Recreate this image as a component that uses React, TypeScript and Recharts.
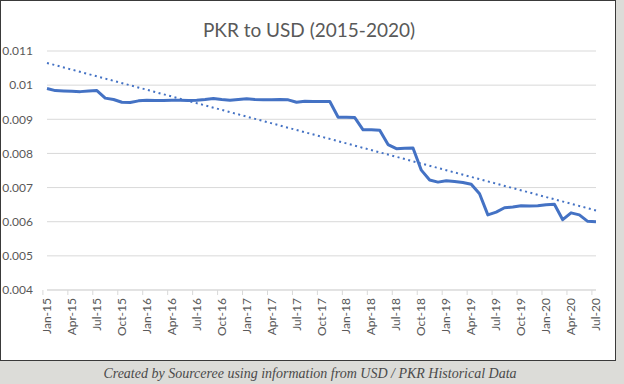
import React from "react";
import { LineChart, Line, XAxis, YAxis, CartesianGrid, ReferenceLine } from "recharts";

const months: string[] = [
  "Jan-15", "Feb-15", "Mar-15", "Apr-15", "May-15", "Jun-15", "Jul-15", "Aug-15", "Sep-15", "Oct-15", "Nov-15", "Dec-15",
  "Jan-16", "Feb-16", "Mar-16", "Apr-16", "May-16", "Jun-16", "Jul-16", "Aug-16", "Sep-16", "Oct-16", "Nov-16", "Dec-16",
  "Jan-17", "Feb-17", "Mar-17", "Apr-17", "May-17", "Jun-17", "Jul-17", "Aug-17", "Sep-17", "Oct-17", "Nov-17", "Dec-17",
  "Jan-18", "Feb-18", "Mar-18", "Apr-18", "May-18", "Jun-18", "Jul-18", "Aug-18", "Sep-18", "Oct-18", "Nov-18", "Dec-18",
  "Jan-19", "Feb-19", "Mar-19", "Apr-19", "May-19", "Jun-19", "Jul-19", "Aug-19", "Sep-19", "Oct-19", "Nov-19", "Dec-19",
  "Jan-20", "Feb-20", "Mar-20", "Apr-20", "May-20", "Jun-20", "Jul-20",
];

const rate2015 = [0.0099, 0.00984, 0.00983, 0.00982, 0.00981, 0.00983, 0.00984, 0.00962, 0.00958, 0.0095, 0.00949, 0.00954];
const rate2016 = [0.00956, 0.00955, 0.00955, 0.00956, 0.00956, 0.00955, 0.00956, 0.00958, 0.00961, 0.00958, 0.00956, 0.00958];
const rate2017 = [0.0096, 0.00958, 0.00957, 0.00957, 0.00958, 0.00957, 0.0095, 0.00953, 0.00952, 0.00952, 0.00952, 0.00906];
const rate2018 = [0.00906, 0.00905, 0.00869, 0.00869, 0.00868, 0.00826, 0.00814, 0.00815, 0.00816, 0.00751, 0.00722, 0.00716];
const rate2019 = [0.0072, 0.00718, 0.00715, 0.0071, 0.00682, 0.0062, 0.00628, 0.00641, 0.00643, 0.00647, 0.00646, 0.00647];
const rate2020 = [0.0065, 0.00651, 0.00606, 0.00626, 0.0062, 0.00601, 0.006];

const trendStart = 0.01065;
const trendEnd = 0.00633;

const yTicks = [0.004, 0.005, 0.006, 0.007, 0.008, 0.009, 0.01, 0.011];

const rates = [...rate2015, ...rate2016, ...rate2017, ...rate2018, ...rate2019, ...rate2020];
const data = months.map((m, i) => ({ month: m, rate: rates[i] }));

const BLUE = "#4472C4";
const FONT = "Lato, 'Open Sans', sans-serif";

const XTick = (props: any) => {
  const { x, y, payload } = props;
  const half = 549 / 67 / 2;
  return (
    <g>
      <line x1={x - half} y1={y} x2={x - half} y2={y + 5} stroke="#d9d9d9" strokeWidth={1} />
      <text
        x={0}
        y={0}
        transform={`translate(${x + 4},${y + 8}) rotate(-90)`}
        textAnchor="end"
        fontSize={12}
        fontFamily={FONT}
        fill="#595959"
      >
        {payload.value}
      </text>
    </g>
  );
};

export default function App() {
  return (
    <div style={{ position: "absolute", left: 0, top: 0, width: 624, height: 384, background: "#dcdcd8", overflow: "hidden" }}>
      <div
        style={{
          position: "absolute",
          left: 0,
          top: 0,
          width: 614,
          height: 359,
          background: "#ffffff",
          border: "1px solid #3a3a3a",
        }}
      >
        <div
          style={{
            position: "absolute",
            left: 0,
            top: 17,
            width: 616,
            textAlign: "center",
            fontFamily: FONT,
            fontSize: 19,
            color: "#595959",
          }}
        >
          PKR to USD (2015-2020)
        </div>
        <LineChart
          width={615}
          height={360}
          data={data}
          margin={{ top: 51, right: 19, left: 0, bottom: 10 }}
          style={{ position: "absolute", left: -1, top: -1 }}
        >
          <CartesianGrid vertical={false} stroke="#d9d9d9" strokeWidth={1} />
          <XAxis
            dataKey="month"
            interval={2}
            tickLine={false}
            axisLine={{ stroke: "#d9d9d9" }}
            tickSize={0}
            tickMargin={0}
            height={60}
            tick={<XTick />}
          />
          <YAxis
            domain={[0.004, 0.011]}
            ticks={yTicks}
            width={47}
            tickLine={false}
            axisLine={false}
            tickSize={0}
            tickMargin={14}
            tick={{ fontSize: 12, fontFamily: FONT, fill: "#595959" }}
          />
          <Line
            type="linear"
            dataKey="rate"
            stroke={BLUE}
            strokeWidth={3}
            dot={false}
            strokeLinejoin="round"
            isAnimationActive={false}
          />
          <ReferenceLine
            segment={[
              { x: months[0], y: trendStart },
              { x: months[months.length - 1], y: trendEnd },
            ]}
            stroke={BLUE}
            strokeWidth={2}
            strokeDasharray="2 3.5"
          />
        </LineChart>
      </div>
      <div
        style={{
          position: "absolute",
          left: 0,
          top: 366,
          width: 620,
          textAlign: "center",
          fontFamily: "'Liberation Serif', 'Times New Roman', serif",
          fontStyle: "italic",
          fontSize: 14,
          color: "#4a4a4a",
        }}
      >
        Created by Sourceree using information from USD / PKR Historical Data
      </div>
    </div>
  );
}
